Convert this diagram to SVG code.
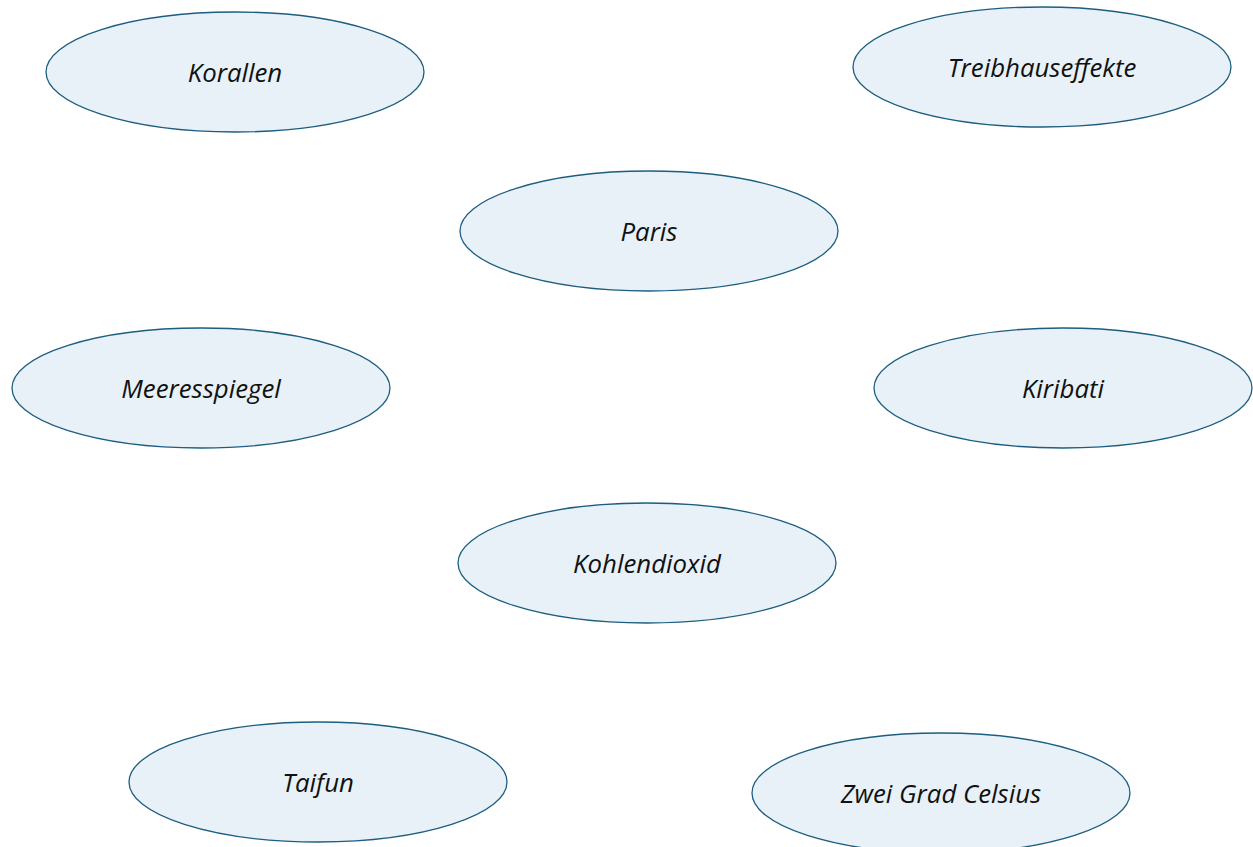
<svg xmlns="http://www.w3.org/2000/svg" width="1253" height="847" viewBox="0 0 1253 847">
<style>
.n ellipse{fill:#e8f1f7;stroke:#1c5d80;stroke-width:1.3}
.n text{font-family:"Open Sans","Noto Sans",sans-serif;font-style:italic;font-size:25.8px;fill:#111;text-anchor:middle;dominant-baseline:central}
</style>
<rect width="1253" height="847" fill="#fff"/>
<g id="connectors"/>
<g id="korallen" class="n"><ellipse cx="235" cy="72" rx="189" ry="60"/><text x="235" y="72">Korallen</text></g>
<g id="treibhauseffekte" class="n"><ellipse cx="1042" cy="67" rx="189" ry="60"/><text x="1042" y="67">Treibhauseffekte</text></g>
<g id="paris" class="n"><ellipse cx="649" cy="231" rx="189" ry="60"/><text x="649" y="231">Paris</text></g>
<g id="meeresspiegel" class="n"><ellipse cx="201" cy="388" rx="189" ry="60"/><text x="201" y="388">Meeresspiegel</text></g>
<g id="kiribati" class="n"><ellipse cx="1063" cy="388" rx="189" ry="60"/><text x="1063" y="388">Kiribati</text></g>
<g id="kohlendioxid" class="n"><ellipse cx="647" cy="563" rx="189" ry="60"/><text x="647" y="563">Kohlendioxid</text></g>
<g id="taifun" class="n"><ellipse cx="318" cy="782" rx="189" ry="60"/><text x="318" y="782">Taifun</text></g>
<g id="zwei-grad-celsius" class="n"><ellipse cx="941" cy="793" rx="189" ry="60"/><text x="941" y="793">Zwei Grad Celsius</text></g>
</svg>
